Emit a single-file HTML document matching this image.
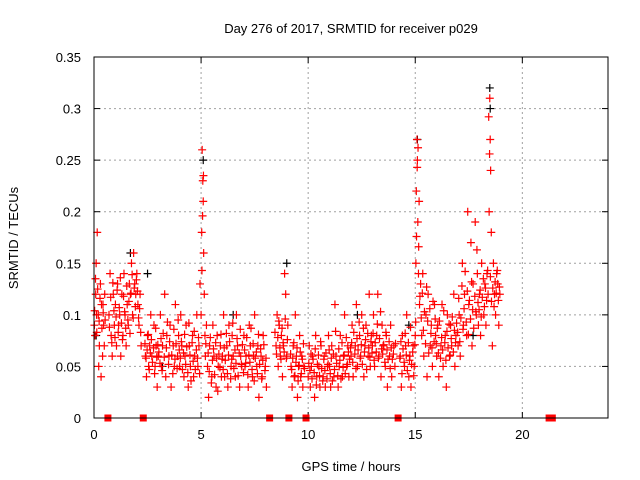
<!DOCTYPE html>
<html><head><meta charset="utf-8"><style>
body{margin:0;background:#fff}
svg{display:block;font-family:"Liberation Sans",sans-serif}
</style></head><body>
<svg id="c" width="640" height="480" viewBox="0 0 640 480">
<rect width="640" height="480" fill="#fff"/>
<text x="351" y="33" font-size="13" text-anchor="middle">Day 276 of 2017, SRMTID for receiver p029</text>
<text x="351" y="471" font-size="13" text-anchor="middle">GPS time / hours</text>
<text transform="translate(18,238) rotate(-90)" font-size="13" text-anchor="middle">SRMTID / TECUs</text>
<g id="grid"></g><g id="axes"></g><g id="marks"></g>
<rect x="94" y="57" width="514" height="361" fill="none" stroke="#000" stroke-width="1"/>
</svg>
<script>
const xTicks=[0,5,10,15,20];
const yTicks=[0,0.05,0.1,0.15,0.2,0.25,0.3,0.35];
const yTickLabels=["0","0.05","0.1","0.15","0.2","0.25","0.3","0.35"];
const hours=[0.02,0.05,0.08,0.1,0.12,0.15,0.2,0.22,0.25,0.3,0.33,0.35,0.4,0.42,0.45,0.48,0.5,0.7,0.75,0.8,0.85,0.9,0.95,
1.0,1.05,1.1,1.15,1.2,1.25,1.3,1.35,1.4,1.45,1.5,1.55,1.6,1.65,1.7,1.75,1.8,1.85,1.9,1.95,
2.0,2.05,2.1,2.15,2.2,2.4,2.45,2.5,2.55,2.6,2.65,2.7,2.8,2.85,2.9,2.95,
3.0,3.1,3.15,3.2,3.3,3.35,3.4,3.5,3.55,3.6,3.7,3.75,3.8,3.9,3.95,
4.0,4.05,4.1,4.2,4.25,4.3,4.4,4.45,4.5,4.6,4.65,4.7,4.8,4.85,4.9,4.95,
5.0,5.03,5.05,5.08,5.1,5.12,5.15,5.18,5.2,5.25,
5.3,5.35,5.4,5.5,5.55,5.6,5.7,5.75,5.8,5.9,5.95,
6.0,6.05,6.1,6.2,6.25,6.3,6.4,6.45,6.5,6.6,6.65,6.7,6.8,6.85,6.9,
7.0,7.05,7.1,7.2,7.25,7.3,7.4,7.45,7.5,7.6,7.65,7.7,7.8,7.85,7.9,8.0,8.05,
8.5,8.55,8.6,8.65,8.7,8.75,8.8,8.85,8.9,8.95,9.0,9.05,
9.2,9.25,9.3,9.35,9.4,9.45,9.5,9.55,9.6,9.65,9.7,9.75,9.8,
10.0,10.05,10.1,10.15,10.2,10.3,10.35,10.4,10.5,10.55,10.6,10.7,10.75,10.8,10.9,10.95,
11.0,11.05,11.1,11.2,11.25,11.3,11.4,11.45,11.5,11.6,11.65,11.7,11.8,11.85,11.9,
12.0,12.05,12.1,12.2,12.25,12.3,12.4,12.45,12.5,12.6,12.65,12.7,12.8,12.85,12.9,12.95,
13.0,13.05,13.1,13.2,13.25,13.3,13.4,13.45,13.5,13.6,13.65,13.7,13.8,13.85,13.9,14.0,14.05,
14.3,14.35,14.4,14.5,14.55,14.6,14.7,14.75,14.8,14.9,14.95,
15.0,15.03,15.05,15.08,15.1,15.12,15.15,15.18,15.2,15.25,
15.3,15.35,15.4,15.5,15.55,15.6,15.7,15.75,15.8,15.9,15.95,
16.0,16.05,16.1,16.2,16.25,16.3,16.4,16.45,16.5,16.6,16.65,16.7,16.8,16.85,16.9,
17.0,17.05,17.1,17.2,17.25,17.3,17.4,17.45,17.5,17.6,17.65,17.7,17.8,17.85,17.9,17.95,
18.0,18.05,18.1,18.2,18.25,18.3,18.35,18.4,18.45,18.48,18.5,18.52,18.55,18.6,18.65,18.7,18.75,18.8,18.85,18.9,18.95];
const tecu=[0.09,0.08,0.12,0.15,0.1,0.18,0.1,0.05,0.07,0.13,0.04,0.11,0.06,0.11,0.09,0.07,0.12,0.1,0.14,0.08,0.06,0.12,0.09,
0.11,0.07,0.13,0.09,0.1,0.06,0.12,0.08,0.14,0.1,0.07,0.11,0.09,0.13,0.12,0.15,0.1,0.16,0.13,0.12,
0.14,0.11,0.09,0.12,0.07,0.06,0.04,0.08,0.05,0.07,0.1,0.06,0.09,0.05,0.07,0.03,
0.06,0.1,0.05,0.07,0.12,0.04,0.08,0.06,0.09,0.03,0.07,0.05,0.11,0.06,0.08,
0.05,0.1,0.07,0.04,0.06,0.09,0.03,0.07,0.05,0.08,0.04,0.06,0.1,0.05,0.07,0.13,
0.1,0.18,0.26,0.23,0.21,0.16,0.12,0.08,0.06,0.09,
0.05,0.02,0.07,0.04,0.09,0.06,0.03,0.08,0.05,0.07,0.04,
0.06,0.1,0.04,0.07,0.03,0.09,0.05,0.08,0.06,0.04,0.1,0.07,0.03,0.06,0.05,
0.08,0.05,0.06,0.03,0.09,0.07,0.04,0.06,0.1,0.05,0.07,0.02,0.06,0.04,0.08,0.05,0.03,
0.07,0.1,0.05,0.09,0.06,0.08,0.04,0.07,0.14,0.12,0.06,0.09,
0.05,0.03,0.07,0.04,0.1,0.06,0.02,0.05,0.08,0.04,0.06,0.03,0.05,
0.04,0.07,0.03,0.05,0.06,0.02,0.08,0.04,0.05,0.03,0.07,0.04,0.06,0.03,0.05,0.08,
0.05,0.03,0.07,0.04,0.11,0.06,0.03,0.05,0.08,0.04,0.06,0.1,0.05,0.07,0.04,
0.06,0.09,0.04,0.07,0.11,0.05,0.08,0.06,0.1,0.04,0.07,0.09,0.06,0.12,0.05,0.08,
0.07,0.1,0.05,0.08,0.12,0.06,0.04,0.09,0.07,0.05,0.08,0.03,0.06,0.09,0.04,0.07,0.05,
0.06,0.03,0.08,0.05,0.07,0.1,0.04,0.06,0.03,0.07,0.05,
0.08,0.15,0.22,0.27,0.25,0.19,0.14,0.21,0.11,0.13,
0.08,0.14,0.06,0.1,0.04,0.12,0.07,0.09,0.05,0.11,0.08,
0.06,0.09,0.04,0.07,0.11,0.05,0.08,0.03,0.1,0.06,0.09,0.07,0.12,0.05,0.08,
0.07,0.1,0.06,0.15,0.09,0.12,0.08,0.2,0.11,0.17,0.07,0.13,0.19,0.1,0.14,0.09,
0.12,0.08,0.15,0.1,0.13,0.09,0.14,0.12,0.2,0.31,0.27,0.24,0.18,0.07,0.15,0.12,0.1,0.14,0.13,0.09,0.12];
const hours2=[0.03,0.07,0.13,0.17,0.24,0.28,0.37,0.43,0.52,0.72,0.78,0.83,0.88,0.93,0.98,
1.03,1.08,1.13,1.18,1.23,1.28,1.33,1.38,1.43,1.48,1.53,1.58,1.63,1.68,1.73,1.78,1.83,1.88,1.93,1.98,
2.03,2.08,2.13,2.18,2.38,2.43,2.48,2.53,2.58,2.63,2.68,2.73,2.78,2.83,2.88,2.93,2.98,
3.03,3.08,3.13,3.18,3.23,3.28,3.38,3.43,3.48,3.53,3.63,3.68,3.73,3.78,3.83,3.88,3.93,3.98,
4.03,4.08,4.13,4.18,4.23,4.28,4.33,4.38,4.43,4.48,4.53,4.58,4.63,4.68,4.73,4.78,4.83,4.88,4.93,
5.04,5.07,5.11,5.22,5.33,5.38,5.43,5.48,5.53,5.58,5.63,5.68,5.73,5.78,5.83,5.88,5.93,5.98,
6.03,6.08,6.13,6.18,6.23,6.28,6.33,6.38,6.43,6.48,6.53,6.58,6.63,6.68,6.73,6.78,6.83,6.88,6.93,6.98,
7.03,7.08,7.13,7.18,7.23,7.28,7.33,7.38,7.43,7.48,7.53,7.58,7.63,7.68,7.73,7.78,7.83,7.88,7.93,7.98,8.03,
8.45,8.52,8.58,8.63,8.68,8.73,8.78,8.83,8.88,8.93,8.98,9.03,
9.18,9.23,9.28,9.33,9.38,9.43,9.48,9.53,9.58,9.63,9.68,9.73,9.78,9.83,
10.03,10.08,10.13,10.18,10.23,10.28,10.33,10.38,10.43,10.48,10.53,10.58,10.63,10.68,10.73,10.78,10.83,10.88,10.93,10.98,
11.03,11.08,11.13,11.18,11.23,11.28,11.33,11.38,11.43,11.48,11.53,11.58,11.63,11.68,11.73,11.78,11.83,11.88,11.93,11.98,
12.03,12.08,12.13,12.18,12.23,12.28,12.33,12.38,12.43,12.48,12.53,12.58,12.63,12.68,12.73,12.78,12.83,12.88,12.93,12.98,
13.03,13.08,13.13,13.18,13.23,13.28,13.33,13.38,13.43,13.48,13.53,13.58,13.63,13.68,13.73,13.78,13.83,13.88,13.93,13.98,14.08,
14.28,14.33,14.38,14.43,14.48,14.53,14.58,14.63,14.68,14.73,14.78,14.83,14.88,14.93,14.98,
15.02,15.06,15.09,15.13,15.16,15.22,15.28,15.33,15.38,15.43,15.48,15.53,15.58,15.63,15.68,15.73,15.78,15.83,15.88,15.93,15.98,
16.03,16.08,16.13,16.18,16.23,16.28,16.33,16.38,16.43,16.48,16.53,16.58,16.63,16.68,16.73,16.78,16.83,16.88,16.93,16.98,
17.03,17.08,17.13,17.18,17.23,17.28,17.33,17.38,17.43,17.48,17.53,17.58,17.63,17.68,17.73,17.78,17.83,17.88,17.93,17.98,
18.03,18.08,18.13,18.18,18.23,18.28,18.33,18.38,18.43,18.47,18.51,18.56,18.62,18.68,18.73,18.78,18.83,18.88,18.93,18.98];
const tecu2=[0.104,0.135,0.083,0.125,0.094,0.116,0.087,0.102,0.095,0.088,0.117,0.073,0.131,0.104,0.078,
0.098,0.124,0.083,0.107,0.136,0.092,0.076,0.118,0.103,0.087,0.128,0.095,0.113,0.082,0.121,0.139,0.097,0.126,0.108,0.134,
0.123,0.097,0.106,0.083,0.072,0.058,0.066,0.081,0.047,0.063,0.076,0.054,0.068,0.043,0.087,0.059,0.071,
0.064,0.053,0.077,0.046,0.082,0.059,0.068,0.093,0.052,0.074,0.061,0.043,0.086,0.057,0.072,0.048,0.095,0.066,
0.058,0.074,0.047,0.063,0.081,0.052,0.069,0.044,0.092,0.061,0.036,0.073,0.055,0.084,0.047,0.066,0.058,0.078,0.043,
0.143,0.196,0.235,0.072,0.063,0.045,0.078,0.034,0.056,0.067,0.042,0.073,0.058,0.026,0.062,0.049,0.081,0.057,
0.047,0.068,0.056,0.082,0.043,0.061,0.074,0.038,0.057,0.092,0.048,0.066,0.053,0.077,0.041,0.063,0.086,0.052,0.071,0.044,
0.066,0.053,0.078,0.042,0.061,0.054,0.087,0.047,0.072,0.036,0.058,0.064,0.043,0.081,0.052,0.067,0.038,0.056,0.071,0.046,0.058,
0.083,0.062,0.078,0.094,0.068,0.057,0.087,0.073,0.064,0.096,0.058,0.076,
0.062,0.047,0.058,0.073,0.041,0.054,0.068,0.036,0.051,0.064,0.043,0.057,0.072,0.048,
0.053,0.046,0.062,0.038,0.057,0.044,0.067,0.032,0.052,0.061,0.041,0.074,0.048,0.036,0.057,0.046,0.063,0.038,0.052,0.066,
0.043,0.058,0.036,0.062,0.047,0.084,0.053,0.041,0.067,0.056,0.038,0.073,0.049,0.061,0.043,0.078,0.052,0.064,0.057,0.068,
0.073,0.054,0.083,0.062,0.048,0.077,0.066,0.093,0.058,0.071,0.052,0.087,0.064,0.076,0.047,0.082,0.068,0.059,0.074,0.063,
0.082,0.056,0.073,0.064,0.091,0.058,0.077,0.103,0.067,0.062,0.071,0.054,0.083,0.066,0.057,0.074,0.048,0.068,0.057,0.062,0.072,
0.058,0.074,0.043,0.067,0.054,0.082,0.061,0.046,0.073,0.056,0.088,0.052,0.064,0.041,0.071,
0.093,0.176,0.243,0.262,0.166,0.118,0.097,0.121,0.085,0.103,0.072,0.127,0.094,0.063,0.106,0.082,0.068,0.113,0.074,0.096,
0.072,0.087,0.063,0.094,0.058,0.078,0.066,0.104,0.073,0.056,0.084,0.068,0.091,0.061,0.077,0.098,0.064,0.085,0.073,0.092,
0.083,0.116,0.074,0.097,0.128,0.086,0.106,0.142,0.093,0.123,0.081,0.114,0.096,0.132,0.105,0.087,0.118,0.103,0.163,0.112,
0.105,0.124,0.098,0.117,0.135,0.108,0.126,0.114,0.143,0.292,0.256,0.137,0.113,0.126,0.108,0.132,0.121,0.143,0.114,0.127];
const blackHours=[0.1,1.7,2.5,3.2,5.1,6.5,9.0,12.3,14.7,15.1,17.7,18.48,18.5];
const blackTecu=[0.08,0.16,0.14,0.05,0.25,0.1,0.15,0.1,0.09,0.27,0.08,0.32,0.3];
const gapHours=[0.65,2.3,8.2,9.1,9.9,14.2,21.25,21.4];

const X0=94,X1=608,Y0=418,Y1=57;
const xs=h=>X0+h/24*(X1-X0);
const ys=v=>Y0-v/0.35*(Y0-Y1);
const NS="http://www.w3.org/2000/svg";
function mk(tag,attrs,parent){const e=document.createElementNS(NS,tag);for(const k in attrs)e.setAttribute(k,attrs[k]);parent.appendChild(e);return e;}
const grid=document.getElementById('grid'),axes=document.getElementById('axes'),marks=document.getElementById('marks');
xTicks.forEach(t=>{
  const x=xs(t);
  if(t>0){const g=mk('line',{x1:x,x2:x,y1:Y1,y2:Y0,stroke:'#a0a0a0','stroke-dasharray':'2,3'},grid);
  
  }
  mk('line',{x1:x,x2:x,y1:Y0,y2:Y0-6,stroke:'#000'},axes);
  mk('line',{x1:x,x2:x,y1:Y1,y2:Y1+6,stroke:'#000'},axes);
  const l=mk('text',{x:x,y:Y0+21,'font-size':13,'text-anchor':'middle'},axes);
  l.textContent=String(t);
  
  
});
yTicks.forEach((t,i)=>{
  const y=ys(t);
  if(t>0&&t<0.35){const g=mk('line',{x1:X0,x2:X1,y1:y,y2:y,stroke:'#a0a0a0','stroke-dasharray':'2,3'},grid);
  
  }
  mk('line',{x1:X0,x2:X0+6,y1:y,y2:y,stroke:'#000'},axes);
  mk('line',{x1:X1,x2:X1-6,y1:y,y2:y,stroke:'#000'},axes);
  const l=mk('text',{x:X0-13,y:y+5,'font-size':13,'text-anchor':'end'},axes);
  l.textContent=yTickLabels[i];
  
  
});
function plus(h,v,col,name){
  const x=xs(h),y=ys(v);
  const p=mk('path',{d:`M${x-4},${y}H${x+4}M${x},${y-4}V${y+4}`,stroke:col,'stroke-width':1.2,fill:'none'},marks);
  
  
}
blackHours.forEach((h,i)=>plus(h,blackTecu[i],'#000','black-point'));
hours.forEach((h,i)=>plus(h,tecu[i],'#ff0000','red-point'));
hours2.forEach((h,i)=>plus(h,tecu2[i],'#ff0000','red-point'));
gapHours.forEach(h=>{
  const r=mk('rect',{x:xs(h)-3.5,y:Y0-3.5,width:7,height:7,fill:'#ff0000'},marks);
  
  
});
</script>
</body></html>
